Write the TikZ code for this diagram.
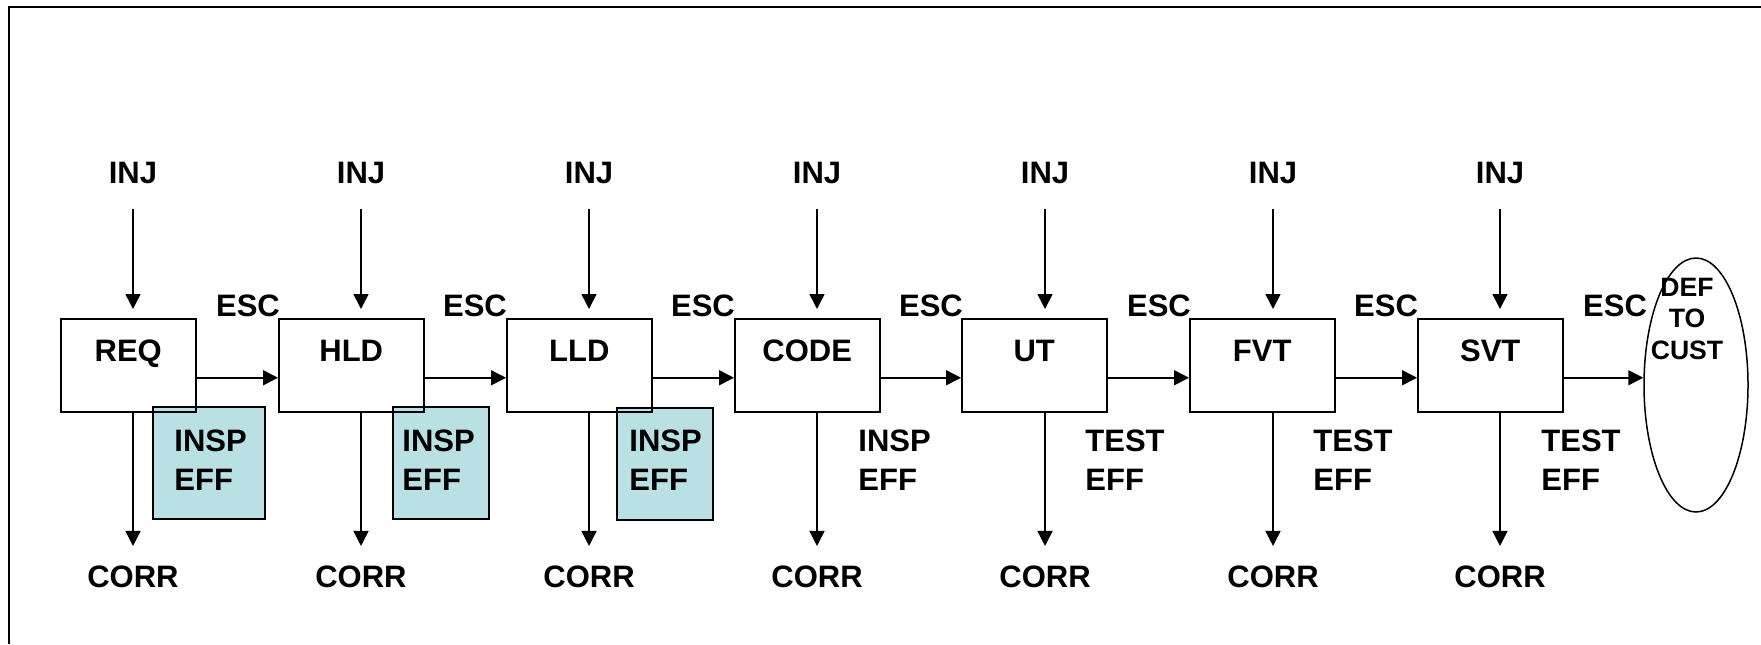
\documentclass[tikz,border=0pt]{standalone}
\usepackage{fontspec}
\setmainfont{Liberation Sans}
\usetikzlibrary{arrows.meta,shapes.geometric}
\definecolor{inspfill}{RGB}{185,224,227}
\begin{document}
\begin{tikzpicture}[x=0.5pt,y=-0.5pt,
  lbl/.style={font=\fontsize{15.5}{19.75}\selectfont\bfseries, inner sep=0pt},
  proc/.style={draw, line width=0.75pt, anchor=north west, minimum height=46.5pt,
    minimum width=72.5pt, text height=21.5pt, text depth=25pt, inner sep=0pt,
    font=\fontsize{15.5}{19.75}\selectfont\bfseries},
  inspbox/.style={draw, fill=inspfill, line width=1pt, inner sep=0pt, rectangle},
  arr/.style={-{Triangle[length=7.5pt,width=7.5pt]}, line width=0.75pt},
  effl/.style={lbl, align=left, anchor=west}
]
\useasboundingbox (0,0) rectangle (1761,644);
% frame
\draw[line width=1pt] (9,644) -- (9,7) -- (1761,7);

% inspection boxes (behind)
\node[inspbox, minimum width=56pt, minimum height=56pt] (ib1) at (209,463) {};
\node[inspbox, minimum width=48pt, minimum height=56pt] (ib2) at (441,463) {};
\node[inspbox, minimum width=48pt, minimum height=56pt] (ib3) at (665,463.5) {};

% process boxes
\node[proc, minimum width=67.5pt] (b1) at (60,318) {REQ};
\node[proc] (b2) at (278,318) {HLD};
\node[proc] (b3) at (506,318) {LLD};
\node[proc] (b4) at (734,318) {CODE};
\node[proc] (b5) at (961,318) {UT};
\node[proc] (b6) at (1189,318) {FVT};
\node[proc] (b7) at (1417,318) {SVT};

% customer ellipse
\node[draw, ellipse, minimum width=52pt, minimum height=127pt, inner sep=0pt, line width=0.75pt] (cust) at (1696,385) {};
\node[font=\fontsize{13.3}{15.75}\selectfont\bfseries, align=center, inner sep=0pt] (custtxt) at (1687,318.5) {DEF\\TO\\CUST};

% INJ / CORR / ESC / EFF labels and arrows
\foreach \i/\x/\ex/\lx/\t in {1/133/248/174/INSP,2/361/475/402/INSP,3/589/703/629/INSP,4/817/931/858/INSP,5/1045/1159/1085/TEST,6/1273/1386/1313/TEST,7/1500/1615/1541/TEST}{
  \node[lbl, anchor=base] (inj\i) at (\x,183) {INJ};
  \node[lbl, anchor=base] (corr\i) at (\x,587) {CORR};
  \node[lbl, anchor=base] (esc\i) at (\ex,316.5) {ESC};
  \node[effl] (eff\i) at (\lx,460) {\t\\EFF};
  \draw[arr, shorten <=12.5pt, shorten >=4.5pt] (inj\i.south) -- (inj\i.south |- b\i.north);
  \draw[arr, shorten >=9.5pt] (inj\i |- b\i.south) -- (corr\i.north);
}

% flow arrows
\draw[arr] ([yshift=-6.25pt]b1.east) -- ([yshift=-6.25pt]b2.west);
\draw[arr] ([yshift=-6.25pt]b2.east) -- ([yshift=-6.25pt]b3.west);
\draw[arr] ([yshift=-6.25pt]b3.east) -- ([yshift=-6.25pt]b4.west);
\draw[arr] ([yshift=-6.25pt]b4.east) -- ([yshift=-6.25pt]b5.west);
\draw[arr] ([yshift=-6.25pt]b5.east) -- ([yshift=-6.25pt]b6.west);
\draw[arr] ([yshift=-6.25pt]b6.east) -- ([yshift=-6.25pt]b7.west);
\draw[arr] ([yshift=-6.25pt]b7.east) -- ([yshift=-6.25pt]b7.east -| cust.west);
\end{tikzpicture}
\end{document}
